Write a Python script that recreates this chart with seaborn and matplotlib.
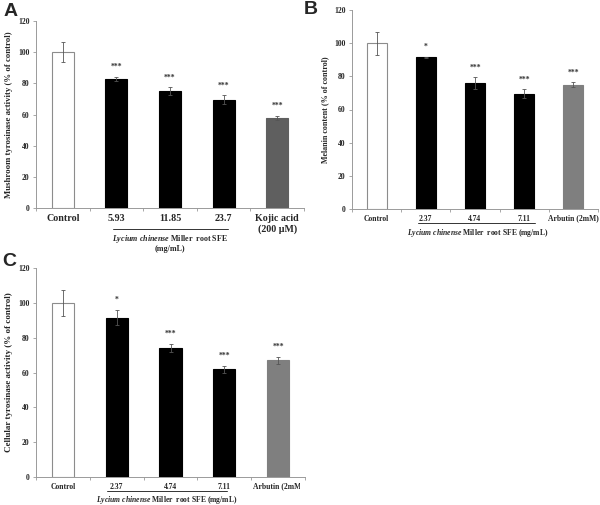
import matplotlib
matplotlib.use('Agg')
import matplotlib.pyplot as plt
from matplotlib.transforms import Bbox, TransformedBbox
import seaborn as sns
import pandas as pd

# panel A - mushroom tyrosinase
a_labels = ['Control', '5.93', '11.85', '23.7', 'Kojic acid\n(200 μM)']
a_values = [100, 83, 75, 69.5, 58]
a_err = [6.5, 1.3, 2.5, 2.7, 1.3]
a_marks = ['', '***', '***', '***', '***']

# panel B - melanin content
b_labels = ['Control', '2.37', '4.74', '7.11', 'Arbutin (2mM)']
b_values = [100, 91.5, 76, 69.5, 75]
b_err = [7, 0.4, 3.5, 2.8, 1.5]
b_marks = ['', '*', '***', '***', '***']

# panel C - cellular tyrosinase
c_labels = ['Control', '2.37', '4.74', '7.11', 'Arbutin (2mM)']
c_values = [100, 91.5, 74, 62, 67]
c_err = [7.5, 4.4, 2.5, 2, 2]
c_marks = ['', '*', '***', '***', '***']

sns.set_theme(style='white')
plt.rcParams['font.family'] = ['Liberation Serif', 'DejaVu Serif']
plt.rcParams['font.weight'] = 'bold'
plt.rcParams['mathtext.fontset'] = 'custom'
plt.rcParams['mathtext.it'] = 'Liberation Serif:italic:bold'
plt.rcParams['mathtext.rm'] = 'Liberation Serif:bold'

fig = plt.figure(figsize=(6, 5.05), dpi=100)


def panel(rect, labels, values, errs, marks, colors, ylabel, xfs, yfs, lfs):
    ax = fig.add_axes(rect)
    df = pd.DataFrame({'group': labels, 'value': values})
    pal = dict(zip(labels, colors))
    edges = ['#8c8c8c' if c == 'white' else c for c in colors]
    sns.barplot(df, x='group', y='value', hue='group', palette=pal, legend=False,
                width=0.41, ax=ax, saturation=1)
    for patch, ec in zip(ax.patches, edges):
        patch.set_edgecolor(ec)
        patch.set_linewidth(0.8)
    ax.errorbar(range(len(values)), values, yerr=errs, fmt='none', ecolor='#555555',
                elinewidth=0.6, capsize=1.5, capthick=0.6)
    for i, (v, e, m) in enumerate(zip(values, errs, marks)):
        if m:
            ax.text(i, v + e + 3.5, m, ha='center', va='bottom', fontsize=5.5, color='#333333')
    ax.set_ylim(0, 120)
    ax.set_xlim(-0.5, len(values) - 0.5)
    ax.set_yticks(range(0, 121, 20))
    ax.set_xticks([x + 0.5 for x in range(-1, len(values))], minor=True)
    ax.tick_params(axis='x', which='major', length=0, pad=4, labelsize=xfs)
    ax.tick_params(axis='x', which='minor', length=2.5, width=0.6, color='#999999', bottom=True)
    ax.tick_params(axis='y', length=2.5, width=0.6, color='#999999', left=True, labelsize=yfs, pad=2)
    for s in ['top', 'right']:
        ax.spines[s].set_visible(False)
    for s in ['left', 'bottom']:
        ax.spines[s].set_color('#9a9a9a')
        ax.spines[s].set_linewidth(0.7)
    ax.set_xlabel('')
    ax.set_ylabel(ylabel, fontsize=lfs, fontweight='bold', labelpad=4)
    for t in ax.get_xticklabels() + ax.get_yticklabels():
        t.set_fontweight('bold')
    return ax


ax_a = panel([36 / 600, 297 / 505, 268 / 600, 187 / 505], a_labels, a_values, a_err, a_marks,
             ['white', 'black', 'black', 'black', '#5f5f5f'],
             'Mushroom tyrosinase activity (% of control)', 7.2, 5.5, 6.3)
ax_b = panel([352 / 600, 296 / 505, 246 / 600, 199 / 505], b_labels, b_values, b_err, b_marks,
             ['white', 'black', 'black', 'black', '#7f7f7f'],
             'Melanin content (% of control)', 5.5, 5.5, 5.8)
ax_c = panel([36 / 600, 28 / 505, 269 / 600, 209 / 505], c_labels, c_values, c_err, c_marks,
             ['white', 'black', 'black', 'black', '#7f7f7f'],
             'Cellular tyrosinase activity (% of control)', 5.5, 5.5, 6.5)

# C is cropped at the middle of the figure
clip = TransformedBbox(Bbox([[0, 0], [0.5, 0.5]]), fig.transFigure)
for t in ax_c.get_xticklabels():
    t.set_clip_box(clip)
    t.set_clip_on(True)


def px(x, y):
    # figure pixel coords measured from the top left
    return x / 600, 1 - y / 505


caption = r'$\it{Lycium\ chinense}$ Miller  root SFE'
fig.add_artist(plt.Line2D(*zip(px(113, 229), px(228, 229)), color='#333333', lw=0.7))
fig.text(*px(170, 239), caption, ha='center', va='center', fontsize=5.8, fontweight='bold')
fig.text(*px(170, 249), '(mg/mL)', ha='center', va='center', fontsize=5.8, fontweight='bold')

fig.add_artist(plt.Line2D(*zip(px(418, 223), px(535, 223)), color='#333333', lw=0.7))
fig.text(*px(478, 233), caption + ' (mg/mL)', ha='center', va='center', fontsize=5.5,
         fontweight='bold')

fig.add_artist(plt.Line2D(*zip(px(107, 491), px(227, 491)), color='#333333', lw=0.7))
fig.text(*px(167, 500), caption + ' (mg/mL)', ha='center', va='center', fontsize=5.5,
         fontweight='bold')

for letter, (x, y) in zip('ABC', [(4, 11), (304, 9), (2, 262)]):
    fig.text(*px(x, y), letter, ha='left', va='center', fontsize=14, fontweight='bold',
             family=['Liberation Sans', 'DejaVu Sans'])

fig.savefig('out.png', dpi=100)
